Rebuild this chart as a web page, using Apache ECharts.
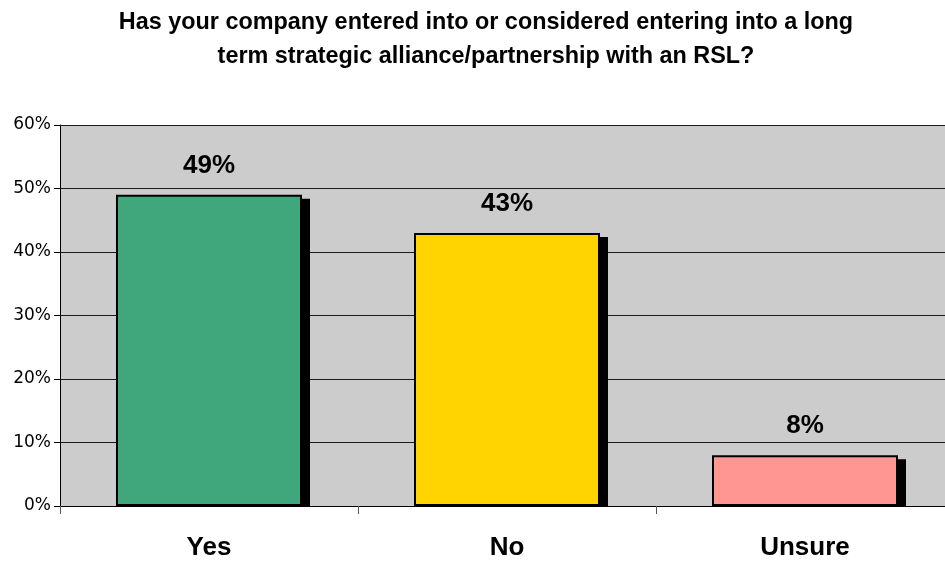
<!DOCTYPE html>
<html>
<head>
<meta charset="utf-8">
<style>
  html, body { margin: 0; padding: 0; background: #ffffff; overflow: hidden; }
  /* the plot runs a little past the right edge of the window */
  #chart { width: 954px; height: 561px; }
</style>
<script src="https://cdn.jsdelivr.net/npm/echarts@6/dist/echarts.min.js"></script>
</head>
<body>
<div id="chart"></div>
<script>
// Survey answers and their shares (percent)
const categories = ['Yes', 'No', 'Unsure'];
const shares = [49, 43, 8];
const barColors = ['#3fa77b', '#ffd400', '#ff9692'];
const yTicks = [0, 10, 20, 30, 40, 50, 60];

const titleText = 'Has your company entered into or considered entering into a long\nterm strategic alliance/partnership with an RSL?';

const BAR_W = 186;
const SHADOW_DX = 8;
const SHADOW_DY = 4;

const chart = echarts.init(document.getElementById('chart'), null, { renderer: 'canvas' });

chart.setOption({
  backgroundColor: '#ffffff',
  animation: false,
  title: {
    text: titleText,
    left: 481,
    top: 1,
    textAlign: 'center',
    textStyle: {
      fontFamily: 'Liberation Sans, Arial, sans-serif',
      fontWeight: 'bold',
      fontSize: 23.4,
      lineHeight: 34,
      color: '#000000'
    }
  },
  grid: {
    left: 60,
    top: 125,
    right: 0,
    bottom: 55,
    show: true,
    backgroundColor: '#cccccc',
    borderWidth: 0
  },
  xAxis: {
    type: 'category',
    data: categories,
    axisLine: { show: true, lineStyle: { color: '#000000', width: 1 } },
    axisTick: { show: true, length: 8, alignWithLabel: false, lineStyle: { color: '#555555', width: 1 } },
    axisLabel: {
      margin: 29,
      color: '#000000',
      fontFamily: 'Liberation Sans, Arial, sans-serif',
      fontWeight: 'bold',
      fontSize: 26
    }
  },
  yAxis: {
    type: 'value',
    min: yTicks[0],
    max: yTicks[yTicks.length - 1],
    interval: 10,
    axisLine: { show: true, lineStyle: { color: '#000000', width: 1 } },
    axisTick: { show: true, length: 6, lineStyle: { color: '#000000', width: 1 } },
    splitLine: { show: true, lineStyle: { color: '#1a1a1a', width: 1 } },
    axisLabel: {
      margin: 9,
      color: '#000000',
      fontFamily: 'DejaVu Sans, Verdana, sans-serif',
      fontSize: 17,
      formatter: '{value}%'
    }
  },
  series: [
    {
      // drop shadow behind each bar
      type: 'custom',
      z: 1,
      data: shares.map((v, i) => [i, v]),
      renderItem: function (params, api) {
        const top = api.coord([api.value(0), api.value(1)]);
        const base = api.coord([api.value(0), 0]);
        const x = top[0] - BAR_W / 2 + SHADOW_DX;
        const y = top[1] + SHADOW_DY;
        return {
          type: 'rect',
          shape: { x: x, y: y, width: BAR_W, height: base[1] - y },
          style: { fill: '#000000' }
        };
      },
      silent: true
    },
    {
      type: 'bar',
      z: 2,
      barWidth: BAR_W,
      data: shares.map((v, i) => ({
        value: v,
        itemStyle: { color: barColors[i] }
      })),
      itemStyle: { borderColor: '#000000', borderWidth: 2 },
      label: {
        show: true,
        position: 'top',
        distance: 16,
        formatter: '{c}%',
        color: '#000000',
        fontFamily: 'Liberation Sans, Arial, sans-serif',
        fontWeight: 'bold',
        fontSize: 26
      }
    }
  ]
});
</script>
</body>
</html>
